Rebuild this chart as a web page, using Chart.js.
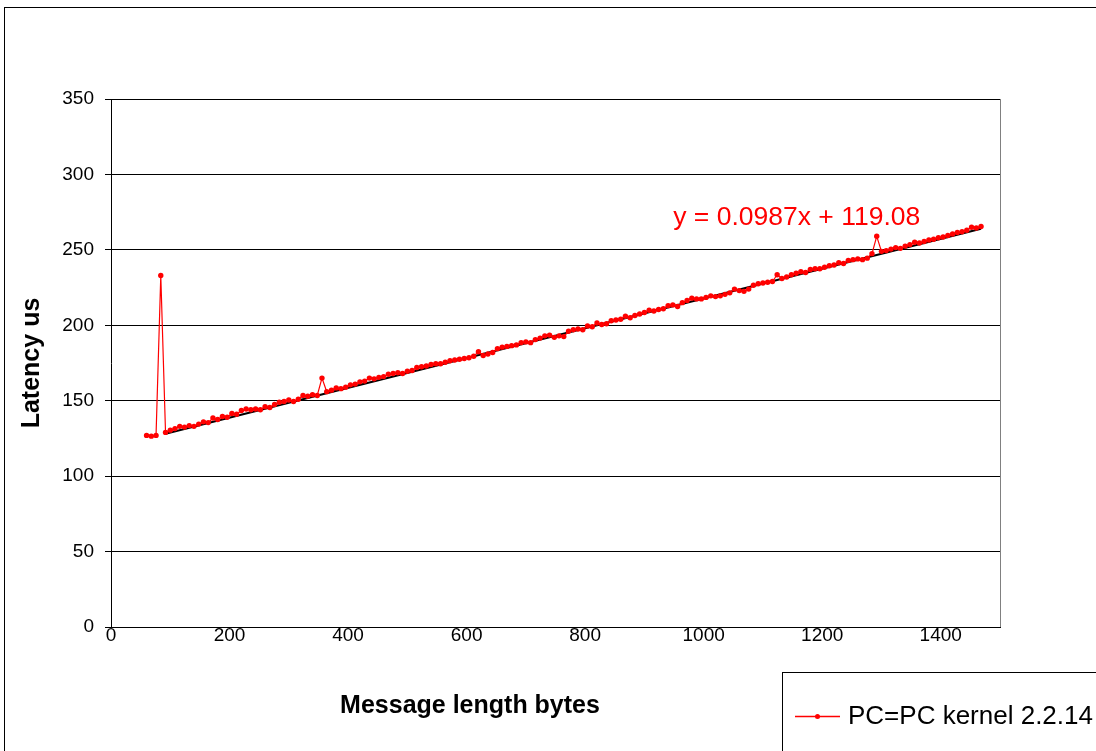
<!DOCTYPE html>
<html lang="en">
<head>
    <meta charset="UTF-8">
    <title>Latency vs message length</title>
    <script src="https://cdn.jsdelivr.net/npm/chart.js"></script>
    <style>
        body { margin: 0; background: #fff; }
        #wrap { width: 1096px; height: 751px; }
    </style>
</head>
<body>
    <div id="wrap"><canvas id="latencyChart" width="1096" height="751"></canvas></div>

    <script>
        // message length (bytes)
        const msgLength = [
            60, 68, 76, 84, 92, 100, 108, 116, 124, 132, 140, 148, 156, 164, 172, 180, 188, 196, 204, 212,
            220, 228, 236, 244, 252, 260, 268, 276, 284, 292, 300, 308, 316, 324, 332, 340, 348, 356, 364, 372,
            380, 388, 396, 404, 412, 420, 428, 436, 444, 452, 460, 468, 476, 484, 492, 500, 508, 516, 524, 532,
            540, 548, 556, 564, 572, 580, 588, 596, 604, 612, 620, 628, 636, 644, 652, 660, 668, 676, 684, 692,
            700, 708, 716, 724, 732, 740, 748, 756, 764, 772, 780, 788, 796, 804, 812, 820, 828, 836, 844, 852,
            860, 868, 876, 884, 892, 900, 908, 916, 924, 932, 940, 948, 956, 964, 972, 980, 988, 996, 1004, 1012,
            1020, 1028, 1036, 1044, 1052, 1060, 1068, 1076, 1084, 1092, 1100, 1108, 1116, 1124, 1132, 1140, 1148, 1156, 1164, 1172,
            1180, 1188, 1196, 1204, 1212, 1220, 1228, 1236, 1244, 1252, 1260, 1268, 1276, 1284, 1292, 1300, 1308, 1316, 1324, 1332,
            1340, 1348, 1356, 1364, 1372, 1380, 1388, 1396, 1404, 1412, 1420, 1428, 1436, 1444, 1452, 1460, 1468
        ];

        // latency (us), PC=PC kernel 2.2.14
        const latency = [
            127, 126.5, 127, 233, 129, 130.5, 131.5, 133, 132.5, 133.5, 133, 134.5, 136, 135.5, 138.5, 137.5, 139.5, 139, 141.5, 141,
            143.5, 144.5, 144, 144.5, 144, 146, 145.5, 147.5, 149, 149.5, 150.5, 149.5, 151, 153.5, 153, 154, 153.5, 165, 156, 157,
            158.5, 158, 159, 160.5, 161, 162.5, 163, 165, 164.5, 165.5, 166, 167.5, 168, 168.5, 168, 169.5, 170, 172, 172.5, 173,
            174, 174.5, 174.5, 175.5, 176.5, 177, 177.5, 178, 178.5, 179.5, 182.5, 180, 181, 182, 184.5, 185.5, 186, 186.5, 187, 188.5,
            189, 188.5, 190.5, 191.5, 193, 193.5, 192, 193, 192.5, 196, 197, 197.5, 197, 199.5, 199, 201.5, 200.5, 201, 203, 203.5,
            204, 206, 205, 206.5, 207.5, 208.5, 210, 209.5, 210.5, 211, 213, 213.5, 212.5, 215, 216.5, 218, 217.5, 217.5, 218.5, 219.5,
            219, 219.5, 220.5, 221.5, 224, 223, 222.5, 224, 226.5, 227.5, 228, 228.5, 229, 233.5, 231, 232, 233.5, 234.5, 235.5, 235,
            237, 237.5, 237.5, 238.5, 239.5, 240, 241.5, 241, 243, 243.5, 244, 243.5, 244.5, 247.5, 259, 249, 249.5, 250.5, 251.5, 251,
            252.5, 253.5, 255, 254.5, 255.5, 256.5, 257, 258, 258.5, 259.5, 260.5, 261.5, 262, 263, 265, 264.5, 265.5
        ];

        // linear trendline shown on the chart
        const trendSlope = 0.0987;
        const trendIntercept = 119.08;
        const trendFrom = 92;
        const trendTo = 1468;

        const xTicks = [0, 200, 400, 600, 800, 1000, 1200, 1400];
        const yTicks = [0, 50, 100, 150, 200, 250, 300, 350];

        const seriesName = 'PC=PC kernel 2.2.14';
        const xTitle = 'Message length bytes';
        const yTitle = 'Latency us';
        const equationText = 'y = ' + trendSlope + 'x + ' + trendIntercept.toFixed(2);

        const FONT = 'Liberation Sans, Arial, Helvetica, sans-serif';

        const points = msgLength.map((x, i) => ({ x: x, y: latency[i] }));
        const trendPoints = [trendFrom, trendTo].map(x => ({ x: x, y: trendSlope * x + trendIntercept }));

        // frame, right border, equation, x title and legend box
        const extras = {
            id: 'extras',
            beforeDraw(chart) {
                const ctx = chart.ctx;
                ctx.save();
                ctx.fillStyle = '#fff';
                ctx.fillRect(0, 0, chart.width, chart.height);
                ctx.strokeStyle = '#000';
                ctx.lineWidth = 1;
                ctx.strokeRect(4.5, 7.5, 2000, 2000);
                ctx.restore();
            },
            afterDraw(chart) {
                const ctx = chart.ctx;
                const area = chart.chartArea;
                const xs = chart.scales.x, ys = chart.scales.y;
                ctx.save();

                ctx.strokeStyle = '#808080';
                ctx.lineWidth = 1;
                ctx.beginPath();
                ctx.moveTo(Math.round(area.right) + 0.5, area.top);
                ctx.lineTo(Math.round(area.right) + 0.5, area.bottom);
                ctx.stroke();

                // trendline label
                ctx.fillStyle = '#ff0000';
                ctx.font = '26.5px ' + FONT;
                ctx.textAlign = 'center';
                ctx.textBaseline = 'middle';
                ctx.fillText(equationText, xs.getPixelForValue(1157), ys.getPixelForValue(271));

                // x axis title
                ctx.fillStyle = '#000';
                ctx.font = 'bold 25px ' + FONT;
                ctx.fillText(xTitle, 470, 706);

                // legend box
                ctx.strokeStyle = '#000';
                ctx.lineWidth = 1;
                ctx.strokeRect(782.5, 672.5, 600, 200);
                ctx.strokeStyle = '#ff0000';
                ctx.lineWidth = 1.5;
                ctx.beginPath();
                ctx.moveTo(795, 716.5);
                ctx.lineTo(840, 716.5);
                ctx.stroke();
                ctx.fillStyle = '#ff0000';
                ctx.beginPath();
                ctx.arc(817.5, 716.5, 2.5, 0, Math.PI * 2);
                ctx.fill();
                ctx.fillStyle = '#000';
                ctx.font = '26px ' + FONT;
                ctx.textAlign = 'left';
                ctx.fillText(seriesName, 848, 717);

                ctx.restore();
            }
        };

        new Chart(document.getElementById('latencyChart').getContext('2d'), {
            type: 'line',
            data: {
                datasets: [{
                    label: seriesName,
                    data: points,
                    borderColor: '#ff0000',
                    backgroundColor: '#ff0000',
                    borderWidth: 1.2,
                    pointRadius: 2.7,
                    pointBorderWidth: 0,
                    pointBackgroundColor: '#ff0000',
                    tension: 0,
                    order: 0
                }, {
                    label: 'Linear trend',
                    data: trendPoints,
                    borderColor: '#000',
                    borderWidth: 2,
                    pointRadius: 0,
                    order: 1
                }]
            },
            options: {
                responsive: false,
                animation: false,
                devicePixelRatio: 1,
                layout: { padding: { left: 0, top: 99, right: 96, bottom: 0 } },
                plugins: {
                    legend: { display: false },
                    tooltip: { enabled: false }
                },
                scales: {
                    x: {
                        type: 'linear',
                        min: 0,
                        max: 1500,
                        afterBuildTicks: axis => { axis.ticks = xTicks.map(v => ({ value: v })); },
                        afterFit: scale => { scale.height = 124; },
                        grid: { display: false, drawTicks: false },
                        border: { color: '#000', width: 1 },
                        ticks: {
                            color: '#000',
                            padding: -3,
                            maxRotation: 0,
                            autoSkip: false,
                            callback: v => String(v),
                            font: { family: FONT, size: 19 }
                        }
                    },
                    y: {
                        min: 0,
                        max: 350,
                        afterBuildTicks: axis => { axis.ticks = yTicks.map(v => ({ value: v })); },
                        afterFit: scale => { scale.width = 111; },
                        grid: { color: '#000', lineWidth: 1, tickLength: 6 },
                        border: { color: '#000', width: 1 },
                        title: {
                            display: true,
                            text: yTitle,
                            color: '#000',
                            padding: { top: 17, bottom: 0 },
                            font: { family: FONT, size: 25, weight: 'bold' }
                        },
                        ticks: {
                            color: '#000',
                            padding: 11,
                            callback: v => String(v),
                            font: { family: FONT, size: 19 }
                        }
                    }
                }
            },
            plugins: [extras]
        });
    </script>
</body>
</html>
